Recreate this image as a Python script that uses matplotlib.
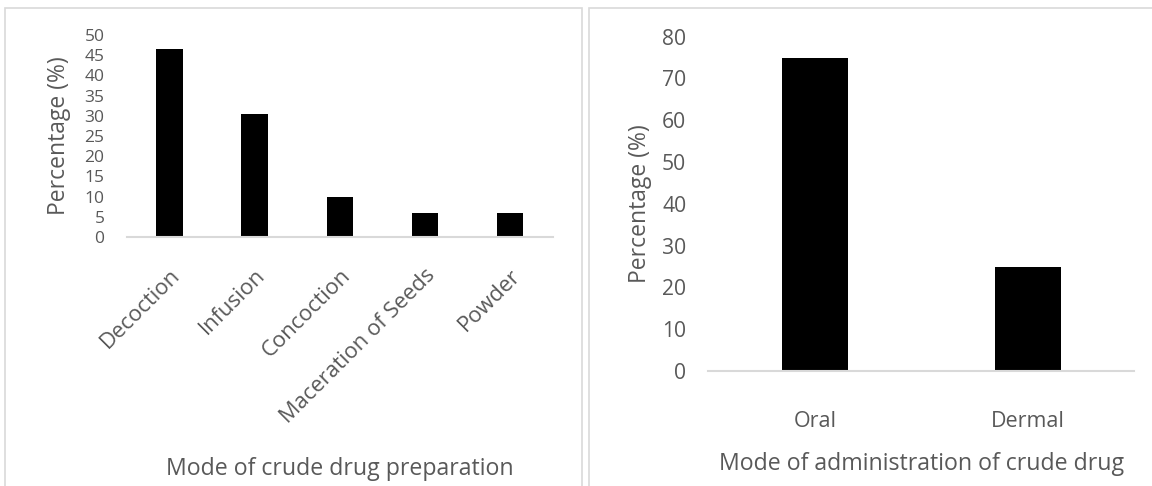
import matplotlib
matplotlib.use("Agg")
import matplotlib.pyplot as plt
from matplotlib.patches import Rectangle

# Datos
preparacion = ["Decoction", "Infusion", "Concoction", "Maceration of Seeds", "Powder"]
pct_preparacion = [46.5, 30.5, 10, 6, 6]

administracion = ["Oral", "Dermal"]
pct_administracion = [75, 25]

plt.rcParams["font.family"] = ["Open Sans", "DejaVu Sans"]
gris = "#595959"
borde = "#d9d9d9"

fig = plt.figure(figsize=(11.52, 4.86), dpi=100)

# Marcos de cada panel (como en Excel)
fig.patches.append(Rectangle((5 / 1152, -0.05), 577 / 1152, 1.05 - 8 / 486,
                             transform=fig.transFigure, fill=False, ec=borde, lw=1.2))
fig.patches.append(Rectangle((589 / 1152, -0.05), 600 / 1152, 1.05 - 8 / 486,
                             transform=fig.transFigure, fill=False, ec=borde, lw=1.2))

# --- Panel izquierdo ---
ax1 = fig.add_axes([0.110, 0.5123, 0.3698, 0.4156])
ax1.bar(preparacion, pct_preparacion, width=0.31, color="black")
ax1.set_ylim(0, 50)
ax1.set_yticks(range(0, 51, 5))
ax1.set_xlim(-0.5, len(preparacion) - 0.5)
ax1.tick_params(axis="y", length=0, pad=16, labelsize=12.5, labelcolor=gris)
ax1.tick_params(axis="x", length=0, pad=20, labelsize=15.8, labelcolor=gris)
for lbl in ax1.get_xticklabels():
    lbl.set_rotation(45)
    lbl.set_ha("right")
    lbl.set_va("top")
    lbl.set_rotation_mode("anchor")
ax1.set_ylabel("Percentage (%)", fontsize=16.5, color=gris, va="center")
ax1.yaxis.set_label_coords(-0.158, 0.5)
ax1.set_xlabel("Mode of crude drug preparation", fontsize=16.7, color=gris, va="center")
ax1.xaxis.set_label_coords(0.5, -1.15)

# --- Panel derecho ---
ax2 = fig.add_axes([0.615, 0.2366, 0.3698, 0.6879])
ax2.bar(administracion, pct_administracion, width=0.31, color="black")
ax2.set_ylim(0, 80)
ax2.set_yticks(range(0, 81, 10))
ax2.set_xlim(-0.5, len(administracion) - 0.5)
ax2.tick_params(axis="y", length=0, pad=16, labelsize=15.2, labelcolor=gris)
ax2.tick_params(axis="x", length=0, pad=29, labelsize=15.5, labelcolor=gris)
ax2.set_ylabel("Percentage (%)", fontsize=16.5, color=gris, va="center")
ax2.yaxis.set_label_coords(-0.161, 0.5)
ax2.set_xlabel("Mode of administration of crude drug", fontsize=16.7, color=gris, va="center")
ax2.xaxis.set_label_coords(0.5, -0.278)

for ax in (ax1, ax2):
    for s in ("top", "right", "left"):
        ax.spines[s].set_visible(False)
    ax.spines["bottom"].set_color(borde)
    ax.spines["bottom"].set_linewidth(1.5)

fig.savefig("out.png", dpi=100)
